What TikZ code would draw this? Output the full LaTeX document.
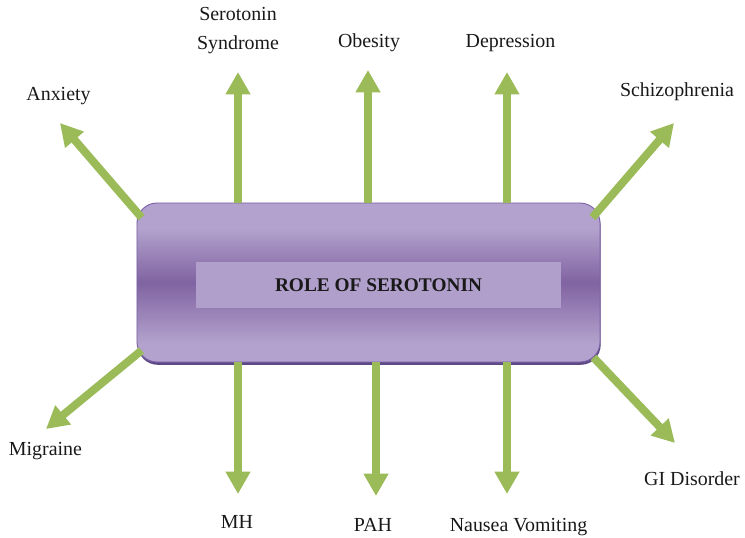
\documentclass[tikz,border=0pt]{standalone}
\usepackage{xcolor}
\usepackage{fontspec}
\setmainfont{Liberation Serif}
\usepackage{tikz}
\usetikzlibrary{arrows.meta, positioning, calc}
\definecolor{boxlight}{RGB}{179,162,205}
\definecolor{boxdark}{RGB}{128,99,161}
\definecolor{boxedge}{RGB}{123,98,166}
\definecolor{boxrim}{RGB}{94,74,134}
\definecolor{innerfill}{RGB}{176,159,202}
\definecolor{mygreen}{RGB}{155,187,89}
\definecolor{mytext}{RGB}{25,25,25}
\pgfdeclareverticalshading{rolefill}{100bp}{color(0bp)=(boxlight); color(31bp)=(boxlight);
  color(50bp)=(boxdark); color(67bp)=(boxlight); color(100bp)=(boxlight)}
\tikzset{
  rolebox/.style={rectangle, shading=rolefill, draw=boxedge, line width=0.8pt,
    minimum width=13.89cm, minimum height=4.77cm, rounded corners=0.6cm,
    preaction={fill=boxrim, transform canvas={shift={(0.6pt,-2.4pt)}}}},
  titlebox/.style={rectangle, fill=innerfill, minimum width=10.95cm,
    minimum height=1.38cm, inner sep=0pt,
    font=\fontsize{16.5}{19}\selectfont\bfseries, text=mytext},
  lbl/.style={inner sep=0pt, anchor=base, align=center,
    font=\fontsize{17}{24}\selectfont, text=mytext},
  arrow/.style={-{Triangle[width=20pt, length=19pt]}, line width=6.8pt, color=mygreen}
}

\begin{document}
\begin{tikzpicture}[x=0.03cm, y=-0.03cm]
  \useasboundingbox (0,0) rectangle (745,538);

  \node[rolebox] (role) at (368.5,282.5) {};
  \node[titlebox] (title) at (378.5,285) {ROLE OF SEROTONIN};

  % labels round the box
  \node[lbl] (anx) at (58.5,101) {Anxiety};
  \node[lbl, anchor=center] (sersyn) at (238,30.5) {Serotonin\\Syndrome};
  \node[lbl] (obes) at (369,48) {Obesity};
  \node[lbl] (depr) at (510.5,48) {Depression};
  \node[lbl] (schiz) at (677,97) {Schizophrenia};
  \node[lbl] (migr) at (45.5,455) {Migraine};
  \node[lbl] (mh) at (237,528) {MH};
  \node[lbl] (pah) at (373,531) {PAH};
  \node[lbl] (nausea) at (518.5,531) {Nausea Vomiting};
  \node[lbl] (gid) at (692,485) {GI Disorder};

  % arrow tips
  \coordinate (t-anx) at (60,123);
  \coordinate (t-sersyn) at (238,72);
  \coordinate (t-obes) at (368,70);
  \coordinate (t-depr) at (507,72);
  \coordinate (t-schiz) at (674,123);
  \coordinate (t-migr) at (46,429);
  \coordinate (t-mh) at (238,494);
  \coordinate (t-pah) at (376,496);
  \coordinate (t-nausea) at (507,494);
  \coordinate (t-gid) at (675,443);

  % diagonal starts on the box
  \coordinate (s-anx) at ([shift={(5,15)}]role.north west);
  \coordinate (s-schiz) at ([shift={(-8,15)}]role.north east);
  \coordinate (s-migr) at ([shift={(5,-12)}]role.south west);
  \coordinate (s-gid) at ([shift={(-7,-5)}]role.south east);

  \draw[arrow] (s-anx) -- (t-anx);
  \draw[arrow] (role.north -| t-sersyn) -- (t-sersyn);
  \draw[arrow] (role.north -| t-obes) -- (t-obes);
  \draw[arrow] (role.north -| t-depr) -- (t-depr);
  \draw[arrow] (s-schiz) -- (t-schiz);
  \draw[arrow] (s-migr) -- (t-migr);
  \draw[arrow] (role.south -| t-mh) -- (t-mh);
  \draw[arrow] (role.south -| t-pah) -- (t-pah);
  \draw[arrow] (role.south -| t-nausea) -- (t-nausea);
  \draw[arrow] (s-gid) -- (t-gid);
\end{tikzpicture}
\end{document}
